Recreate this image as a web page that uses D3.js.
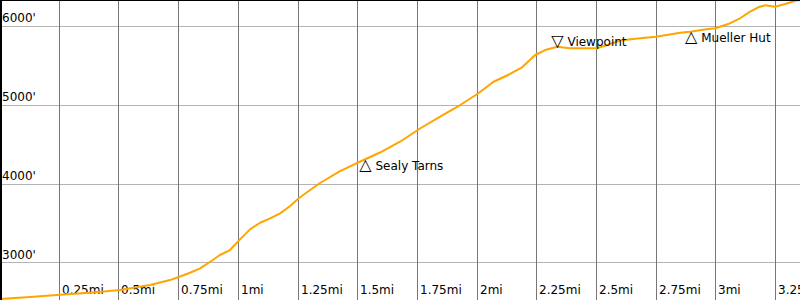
<!DOCTYPE html>
<html>
<head>
<meta charset="utf-8">
<script src="https://cdn.jsdelivr.net/npm/d3@7"></script>
<style>
  body { margin: 0; background: #fff; }
  svg { display: block; font-family: "DejaVu Sans", sans-serif; }
</style>
</head>
<body>
<svg id="chart" width="800" height="300"></svg>
<script>
// elevation profile, miles vs feet
const miles = [0, 0.126, 0.251, 0.377, 0.503, 0.628, 0.712, 0.754, 0.796, 0.838, 0.88, 0.921, 0.963,
    1.005, 1.047, 1.089, 1.131, 1.173, 1.215, 1.252, 1.34, 1.424, 1.5, 1.591, 1.675, 1.759, 1.843,
    1.927, 2.002, 2.065, 2.136, 2.186, 2.241, 2.283, 2.333, 2.387, 2.5, 2.555, 2.597, 2.68, 2.747,
    2.848, 2.89, 2.957, 2.995, 3.049, 3.099, 3.141, 3.175, 3.204, 3.246, 3.288, 3.33, 3.35];
const feet = [2534, 2560, 2589, 2614, 2649, 2712, 2775, 2820, 2868, 2924, 3008, 3093, 3156,
    3292, 3419, 3503, 3559, 3622, 3715, 3816, 4007, 4159, 4267, 4394, 4531, 4699, 4849,
    4997, 5143, 5289, 5391, 5476, 5632, 5695, 5737, 5717, 5717, 5771, 5816, 5844, 5864,
    5915, 5928, 5958, 5971, 6025, 6098, 6182, 6237, 6263, 6245, 6279, 6321, 6330];

const markerNames = ["Sealy Tarns", "Viewpoint", "Mueller Hut"];
const markerMiles = [1.529, 2.333, 2.893];
const markerFeet = [4293, 5737, 5928];
const markerUp = [true, false, true];

const xTicks = [0.25, 0.5, 0.75, 1, 1.25, 1.5, 1.75, 2, 2.25, 2.5, 2.75, 3, 3.25];
const yTicks = [3000, 4000, 5000, 6000];

const width = 800, height = 300;
const svg = d3.select("#chart");

const x = d3.scaleLinear().domain([0, 3.35]).range([0, width]);
const y = d3.scaleLinear().domain([2522, 6330]).range([height, 0]);

// grid
svg.selectAll(".hgrid")
    .data(yTicks)
    .enter()
    .append("line")
    .attr("class", "hgrid")
    .attr("x1", 0)
    .attr("x2", width)
    .attr("y1", d => Math.round(y(d)) + 0.5)
    .attr("y2", d => Math.round(y(d)) + 0.5)
    .attr("stroke", "#b4b4b4");

svg.selectAll(".vgrid")
    .data(xTicks)
    .enter()
    .append("line")
    .attr("class", "vgrid")
    .attr("x1", d => Math.round(x(d)) - 0.5)
    .attr("x2", d => Math.round(x(d)) - 0.5)
    .attr("y1", 0)
    .attr("y2", height)
    .attr("stroke", "#777");

// labels
svg.selectAll(".ylab")
    .data(yTicks)
    .enter()
    .append("text")
    .attr("class", "ylab")
    .attr("x", 2)
    .attr("y", d => y(d) - 3.5)
    .attr("font-size", 12)
    .text(d => d + "'");

svg.selectAll(".xlab")
    .data(xTicks)
    .enter()
    .append("text")
    .attr("class", "xlab")
    .attr("x", d => Math.round(x(d)) + 2)
    .attr("y", 294)
    .attr("font-size", 12)
    .text(d => d + "mi");

// profile
const points = miles.map((m, i) => [m, feet[i]]);
const line = d3.line()
    .x(d => x(d[0]))
    .y(d => y(d[1]));

svg.append("path")
    .datum(points)
    .attr("fill", "none")
    .attr("stroke", "#ffa500")
    .attr("stroke-width", 2)
    .attr("stroke-linejoin", "round")
    .attr("d", line);

// waypoints: triangle glyph a bit bigger than the name
const marks = svg.selectAll(".marker")
    .data(markerNames)
    .enter()
    .append("text")
    .attr("class", "marker")
    .attr("x", (d, i) => x(markerMiles[i]) - 5.8)
    .attr("y", (d, i) => y(markerFeet[i]) + (markerUp[i] ? 10 : -0.5))
    .attr("font-size", 12);
marks.append("tspan")
    .attr("font-size", 16)
    .text((d, i) => markerUp[i] ? "\u25B3" : "\u25BD");
marks.append("tspan")
    .text(d => " " + d);

// frame
svg.append("line")
    .attr("x1", 1).attr("x2", 1)
    .attr("y1", 0).attr("y2", height)
    .attr("stroke", "#000").attr("stroke-width", 2);
svg.append("line")
    .attr("x1", 0).attr("x2", width)
    .attr("y1", 0.5).attr("y2", 0.5)
    .attr("stroke", "#000").attr("stroke-width", 1);
</script>
</body>
</html>
